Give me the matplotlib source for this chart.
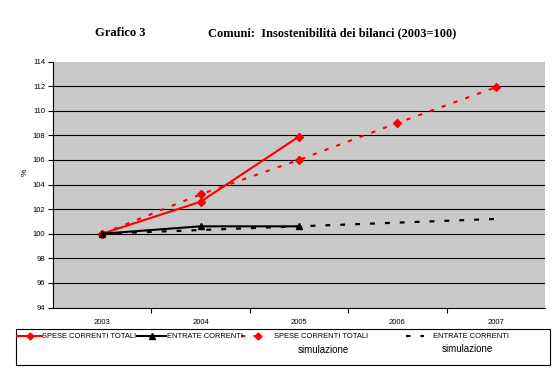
import matplotlib
matplotlib.use("Agg")
import matplotlib.pyplot as plt
from matplotlib.lines import Line2D

years = ["2003", "2004", "2005", "2006", "2007"]
spese = [100.0, 102.6, 107.9]
entrate = [100.0, 100.6, 100.6]
spese_sim = [100.0, 103.2, 106.0, 109.0, 111.9]
entrate_sim = [100.0, 100.3, 100.6, 100.9, 101.2]

RED = "#ff0000"
W, H = 557, 381

fig = plt.figure(figsize=(W / 100, H / 100), dpi=100)
fig.patch.set_facecolor("white")

ax = fig.add_axes([53 / W, 1 - 307.5 / H, (545 - 53) / W, (307.5 - 61.5) / H])
ax.set_facecolor("#c9c9c9")

x = list(range(len(years)))
ax.plot(x, spese_sim, color=RED, lw=1.5, dashes=(2, 4), marker="D", ms=4.5, zorder=3)
ax.plot(x, entrate_sim, color="black", lw=1.6, dashes=(2.2, 4.5), zorder=3)
ax.plot(x[:3], spese, color=RED, lw=1.5, marker="D", ms=4.5, zorder=4)
ax.plot(x[:3], entrate, color="black", lw=1.5, marker="^", ms=5, zorder=4)

ax.set_xlim(-0.5, len(years) - 0.5)
ax.set_ylim(94, 114)
ax.set_yticks(range(94, 115, 2))
ax.set_xticks(x)
ax.set_xticklabels(years)
ax.set_xticks([i + 0.5 for i in x[:-1]], minor=True)
ax.tick_params(axis="x", which="major", length=0, pad=8, labelsize=5.5)
ax.tick_params(axis="x", which="minor", length=3.5, direction="out", width=0.8)
ax.tick_params(axis="y", length=3.5, width=0.8, pad=2, labelsize=5.5)
for lab in ax.get_xticklabels() + ax.get_yticklabels():
    lab.set_family("Liberation Sans")

ax.yaxis.grid(True, color="black", lw=0.8)
ax.yaxis.get_gridlines()[-1].set_visible(False)
ax.yaxis.get_gridlines()[0].set_visible(False)
ax.set_axisbelow(True)
for s in ["top", "right"]:
    ax.spines[s].set_visible(False)
ax.spines["left"].set_linewidth(0.8)
ax.spines["bottom"].set_linewidth(0.8)

fig.text(25 / W, 1 - 172 / H, "%", fontsize=6, family="Liberation Sans",
         rotation=90, ha="center", va="center")

fig.text(120 / W, 1 - 33 / H, "Grafico 3", fontsize=9, family="Liberation Serif",
         weight="bold", ha="center", va="center")
fig.text(332 / W, 1 - 33 / H, "Comuni:  Insostenibilità dei bilanci (2003=100)",
         fontsize=8.9, family="Liberation Serif", weight="bold", ha="center", va="center")

# legend drawn in pixel space
lg = fig.add_axes([0, 0, 1, 1], facecolor="none")
lg.set_xlim(0, W)
lg.set_ylim(H, 0)
lg.axis("off")
lg.add_patch(plt.Rectangle((16, 329), 534, 36, fill=False, ec="black", lw=0.8))
ly = 336
lg.add_line(Line2D([17, 42], [ly, ly], color=RED, lw=1.5))
lg.add_line(Line2D([30], [ly], color=RED, marker="D", ms=3.5))
lg.add_line(Line2D([137, 166], [ly, ly], color="black", lw=1.5))
lg.add_line(Line2D([152], [ly], color="black", marker="^", ms=4.5))
lg.add_line(Line2D([241, 262], [ly, ly], color=RED, lw=1.5, dashes=(2, 4)))
lg.add_line(Line2D([258], [ly], color=RED, marker="D", ms=3.5))
lg.add_line(Line2D([406, 424], [ly, ly], color="black", lw=1.6, dashes=(2, 4.5)))
tkw = dict(fontsize=5.4, family="Liberation Sans", va="center", ha="left")
lg.text(42, ly, "SPESE CORRENTI TOTALI", **tkw)
lg.text(167, ly, "ENTRATE CORRENTI", **tkw)
lg.text(274, ly, "SPESE CORRENTI TOTALI", **tkw)
lg.text(433, ly, "ENTRATE CORRENTI", **tkw)
skw = dict(fontsize=7, family="Liberation Sans", va="center", ha="center")
lg.text(323, 350, "simulazione", **skw)
lg.text(467, 349, "simulazione", **skw)

fig.savefig("out.png", dpi=100)
